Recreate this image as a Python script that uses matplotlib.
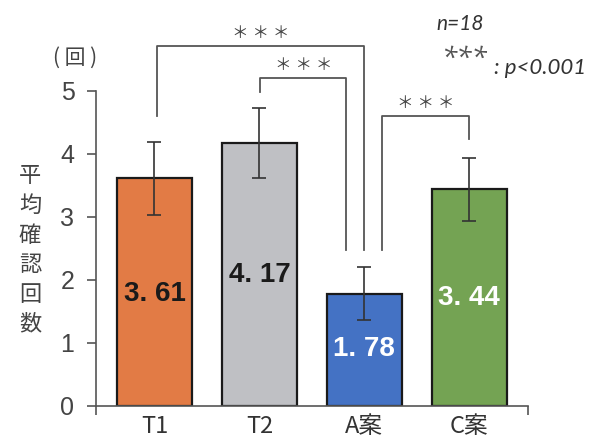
import matplotlib
matplotlib.use("Agg")
import matplotlib.pyplot as plt

# data
categories = ["T1", "T2", "A案", "C案"]
means = [3.61, 4.17, 1.78, 3.44]
errors = [0.58, 0.56, 0.42, 0.50]
value_labels = ["3. 61", "4. 17", "1. 78", "3. 44"]
yticks = [0, 1, 2, 3, 4, 5]

colors = ["#E27B45", "#BFC0C4", "#4472C4", "#74A353"]
label_colors = ["#1a1a1a", "#1a1a1a", "white", "white"]
label_y = [1.78, 2.08, 0.90, 1.71]

num_font = "Liberation Sans"
cjk = ["Noto Sans CJK JP", "DejaVu Sans"]

fig = plt.figure(figsize=(6.01, 4.38), dpi=100)
W, H = 601.0, 438.0
x0, x1 = 96, 528
y0, y5 = 405.5, 91
ax = fig.add_axes([x0 / W, (H - y0) / H, (x1 - x0) / W, (y0 - y5) / H])

xs = list(range(len(categories)))
ax.bar(xs, means, width=0.714, color=colors, edgecolor="#1a1a1a", linewidth=1.6, zorder=2)
ax.errorbar(xs, means, yerr=errors, fmt="none", ecolor="#333333", elinewidth=1.2,
            capsize=5, capthick=1.2, zorder=3)

for x, lab, c, ly in zip(xs, value_labels, label_colors, label_y):
    ax.text(x, ly, lab, ha="center", va="center", color=c, fontsize=20,
            fontweight="bold", family=num_font, zorder=4)

ax.set_xlim(-0.557, 3.56)
ax.set_ylim(0, 5)

# axes styling
for s in ["top", "right"]:
    ax.spines[s].set_visible(False)
for s in ["left", "bottom"]:
    ax.spines[s].set_color("#555555")
    ax.spines[s].set_linewidth(1.2)

ax.set_yticks(yticks)
ax.set_yticklabels([str(t) for t in yticks], family=num_font, fontsize=18, color="#444444")
ax.tick_params(axis="y", direction="out", length=6.5, width=1.2, color="#555555", pad=9)

ax.set_xticks(xs)
ax.set_xticklabels(categories, family=cjk, fontsize=17, color="#333333")
ax.tick_params(axis="x", which="major", length=0, pad=7)
ax.set_xticks([-0.557, 3.56], minor=True)
ax.tick_params(axis="x", which="minor", direction="out", length=6.5, width=1.2, color="#555555")

# significance brackets: (x_left, x_right, y_top, y_left_end, y_right_end)
brackets = [
    (0.02, 2.0, 5.72, 4.61, 2.48),
    (1.01, 1.83, 5.21, 4.98, 2.48),
    (2.17, 3.0, 4.61, 2.48, 4.24),
]
for xl, xr, yt, yl, yr in brackets:
    ax.plot([xl, xl, xr, xr], [yl, yt, yt, yr], color="#555555", lw=1.3,
            clip_on=False, zorder=1)
    ax.text((xl + xr) / 2, yt + 0.06, "＊ ＊ ＊", ha="center", va="bottom",
            fontsize=12, color="#444444", family=cjk, clip_on=False)

# annotations
fig.text(75 / W, 1 - 58 / H, "( 回 )", ha="center", va="center", fontsize=15,
         color="#444444", family=cjk)
fig.text(30 / W, 1 - 250 / H, "\n".join("平均確認回数"), ha="center", va="center",
         fontsize=16, color="#444444", family=cjk, linespacing=1.37)
fig.text(460 / W, 1 - 24 / H, "n=18", ha="center", va="center", fontsize=15,
         style="italic", color="#333333", family="Lato")
fig.text(464 / W, 1 - 60 / H, "***", ha="center", va="center", fontsize=20,
         style="italic", color="#555555", family="Open Sans")
fig.text(494 / W, 1 - 68 / H, ": p<0.001", ha="left", va="center", fontsize=16,
         style="italic", color="#333333", family="Lato")

fig.savefig("out.png", dpi=100)
